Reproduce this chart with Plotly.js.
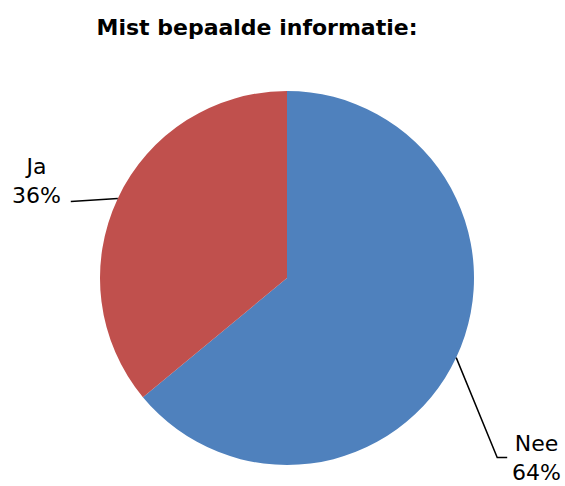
<!DOCTYPE html>
<html>
<head>
<meta charset="utf-8">
<script src="https://cdn.plot.ly/plotly-3.0.1.min.js"></script>
<style>html,body{margin:0;padding:0;background:#fff;}#chart{width:565px;height:486px;}</style>
</head>
<body>
<div id="chart"></div>
<script>
const titleText = 'Mist bepaalde informatie:';
const labels = ['Nee', 'Ja'];
const values = [64, 36];
const colors = ['#4F81BD', '#C0504D'];

// layout geometry (pixels)
const W = 565, H = 486;
const cx = 287, cy = 278, R = 187;
// leader line elbows relative to the slice-edge anchor, and label centre offsets
const leader = {
  'Nee': {pts: [[41, 100], [51, 100]], label: [80, 100]},
  'Ja':  {pts: [[-47, 3]], label: [-81, -17]}
};

const total = values.reduce((a, b) => a + b, 0);
const px2x = p => p / W;
const px2y = p => 1 - p / H;

const shapes = [];
const annotations = [];
let cum = 0;
values.forEach((v, i) => {
  const mid = (cum + v / 2) / total;
  cum += v;
  const th = mid * 2 * Math.PI;
  const ax = cx + R * Math.sin(th);
  const ay = cy - R * Math.cos(th);
  const cfg = leader[labels[i]];
  let path = `M ${px2x(ax)} ${px2y(ay)}`;
  cfg.pts.forEach(p => { path += ` L ${px2x(ax + p[0])} ${px2y(ay + p[1])}`; });
  shapes.push({type: 'path', xref: 'paper', yref: 'paper', path: path,
               line: {color: '#000', width: 1.5}});
  annotations.push({
    xref: 'paper', yref: 'paper',
    x: px2x(ax + cfg.label[0]), y: px2y(ay + cfg.label[1]),
    xanchor: 'center', yanchor: 'middle', align: 'center',
    showarrow: false,
    text: labels[i] + '<br>' + Math.round(v / total * 100) + '%',
    font: {family: 'DejaVu Sans, Verdana, sans-serif', size: 22, color: '#000'}
  });
});

const data = [{
  type: 'pie',
  labels: labels,
  values: values,
  sort: false,
  direction: 'clockwise',
  rotation: 0,
  textinfo: 'none',
  hoverinfo: 'label+percent',
  marker: {colors: colors, line: {width: 0}},
  domain: {
    x: [(cx - R) / W, (cx + R) / W],
    y: [(H - (cy + R)) / H, (H - (cy - R)) / H]
  },
  showlegend: false
}];

const layout = {
  width: W, height: H,
  margin: {l: 0, r: 0, t: 0, b: 0},
  paper_bgcolor: '#fff',
  title: {
    text: '<b>' + titleText + '</b>',
    font: {family: 'DejaVu Sans, Verdana, sans-serif', size: 22, color: '#000'},
    x: 257 / W, xanchor: 'center', xref: 'paper',
    y: 1 - 27 / H, yanchor: 'middle', yref: 'container'
  },
  shapes: shapes,
  annotations: annotations,
  showlegend: false
};

Plotly.newPlot('chart', data, layout, {displayModeBar: false, staticPlot: true});
</script>
</body>
</html>
